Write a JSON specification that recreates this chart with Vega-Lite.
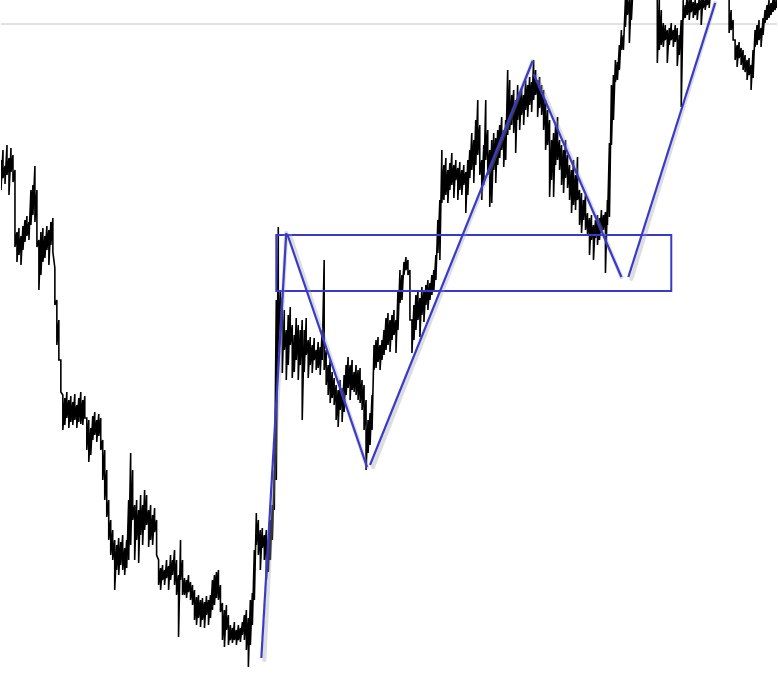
{
  "$schema": "https://vega.github.io/schema/vega-lite/v6.json",
  "width": 778,
  "height": 677,
  "padding": 0,
  "autosize": {"type": "fit", "contains": "padding"},
  "background": "white",
  "config": {"view": {"stroke": null}},
  "datasets": {
    "price": [
      {"t":0,"a":160,"b":190},{"t":2,"a":150,"b":178},{"t":4,"a":166,"b":184},{"t":6,"a":145,"b":175},{"t":8,"a":158,"b":195},{"t":10,"a":148,"b":172},{"t":12,"a":155,"b":182},{"t":14,"a":170,"b":247},{"t":16,"a":232,"b":262},{"t":18,"a":228,"b":255},
      {"t":20,"a":236,"b":265},{"t":22,"a":226,"b":250},{"t":24,"a":220,"b":242},{"t":26,"a":216,"b":236},{"t":28,"a":222,"b":240},{"t":30,"a":190,"b":225},{"t":32,"a":185,"b":215},{"t":34,"a":166,"b":222},{"t":36,"a":190,"b":247},{"t":38,"a":240,"b":290},
      {"t":40,"a":232,"b":275},{"t":42,"a":228,"b":262},{"t":44,"a":236,"b":258},{"t":46,"a":226,"b":250},{"t":48,"a":230,"b":265},{"t":50,"a":222,"b":245},{"t":52,"a":218,"b":252},{"t":54,"a":268,"b":305},{"t":56,"a":300,"b":345},{"t":58,"a":320,"b":360},
      {"t":60,"a":360,"b":392},{"t":62,"a":395,"b":430},{"t":64,"a":398,"b":425},{"t":66,"a":392,"b":418},{"t":68,"a":400,"b":428},{"t":70,"a":396,"b":422},{"t":72,"a":402,"b":425},{"t":74,"a":394,"b":420},{"t":76,"a":405,"b":428},{"t":78,"a":398,"b":422},
      {"t":80,"a":392,"b":424},{"t":82,"a":400,"b":425},{"t":84,"a":396,"b":418},{"t":86,"a":418,"b":450},{"t":88,"a":420,"b":462},{"t":90,"a":428,"b":455},{"t":92,"a":416,"b":440},{"t":94,"a":412,"b":435},{"t":96,"a":420,"b":442},{"t":98,"a":414,"b":436},
      {"t":100,"a":418,"b":450},{"t":102,"a":440,"b":480},{"t":104,"a":450,"b":500},{"t":106,"a":470,"b":517},{"t":108,"a":500,"b":540},{"t":110,"a":520,"b":555},{"t":112,"a":530,"b":560},{"t":114,"a":540,"b":590},{"t":116,"a":545,"b":570},{"t":118,"a":538,"b":575},
      {"t":120,"a":542,"b":565},{"t":122,"a":535,"b":570},{"t":124,"a":548,"b":575},{"t":126,"a":540,"b":568},{"t":128,"a":500,"b":560},{"t":130,"a":453,"b":545},{"t":132,"a":470,"b":520},{"t":134,"a":505,"b":560},{"t":136,"a":500,"b":540},{"t":138,"a":510,"b":563},
      {"t":140,"a":495,"b":535},{"t":142,"a":505,"b":545},{"t":144,"a":490,"b":530},{"t":146,"a":495,"b":525},{"t":148,"a":510,"b":547},{"t":150,"a":505,"b":540},{"t":152,"a":515,"b":545},{"t":154,"a":508,"b":532},{"t":156,"a":520,"b":555},{"t":158,"a":560,"b":585},
      {"t":160,"a":568,"b":590},{"t":162,"a":565,"b":580},{"t":164,"a":570,"b":585},{"t":166,"a":560,"b":578},{"t":168,"a":566,"b":590},{"t":170,"a":555,"b":580},{"t":172,"a":560,"b":575},{"t":174,"a":550,"b":585},{"t":176,"a":560,"b":595},{"t":178,"a":575,"b":637},
      {"t":180,"a":540,"b":580},{"t":182,"a":560,"b":595},{"t":184,"a":578,"b":595},{"t":186,"a":580,"b":598},{"t":188,"a":575,"b":592},{"t":190,"a":582,"b":600},{"t":192,"a":585,"b":605},{"t":194,"a":590,"b":620},{"t":196,"a":597,"b":625},{"t":198,"a":595,"b":618},
      {"t":200,"a":600,"b":627},{"t":202,"a":598,"b":620},{"t":204,"a":602,"b":628},{"t":206,"a":596,"b":615},{"t":208,"a":600,"b":625},{"t":210,"a":595,"b":618},{"t":212,"a":580,"b":610},{"t":214,"a":575,"b":605},{"t":216,"a":572,"b":598},{"t":218,"a":570,"b":600},
      {"t":220,"a":585,"b":612},{"t":222,"a":603,"b":640},{"t":224,"a":610,"b":647},{"t":226,"a":605,"b":630},{"t":228,"a":615,"b":645},{"t":230,"a":625,"b":640},{"t":232,"a":628,"b":643},{"t":234,"a":622,"b":640},{"t":236,"a":630,"b":645},{"t":238,"a":625,"b":640},
      {"t":240,"a":628,"b":642},{"t":242,"a":622,"b":635},{"t":244,"a":615,"b":640},{"t":246,"a":610,"b":650},{"t":248,"a":618,"b":667},{"t":250,"a":600,"b":645},{"t":252,"a":593,"b":625},{"t":254,"a":550,"b":600},{"t":256,"a":513,"b":545},{"t":258,"a":520,"b":555},
      {"t":260,"a":530,"b":570},{"t":262,"a":528,"b":548},{"t":264,"a":535,"b":560},{"t":266,"a":530,"b":580},{"t":268,"a":540,"b":572},{"t":270,"a":520,"b":560},{"t":272,"a":505,"b":540},{"t":274,"a":470,"b":510},{"t":276,"a":300,"b":480},{"t":278,"a":227,"b":353},
      {"t":280,"a":290,"b":330},{"t":282,"a":297,"b":373},{"t":284,"a":310,"b":350},{"t":286,"a":330,"b":380},{"t":288,"a":315,"b":365},{"t":290,"a":307,"b":345},{"t":292,"a":325,"b":378},{"t":294,"a":335,"b":372},{"t":296,"a":318,"b":360},{"t":298,"a":325,"b":380},
      {"t":300,"a":330,"b":365},{"t":302,"a":320,"b":420},{"t":304,"a":330,"b":372},{"t":306,"a":318,"b":355},{"t":308,"a":340,"b":378},{"t":310,"a":337,"b":365},{"t":312,"a":345,"b":373},{"t":314,"a":338,"b":360},{"t":316,"a":350,"b":370},{"t":318,"a":342,"b":368},
      {"t":320,"a":347,"b":375},{"t":322,"a":330,"b":360},{"t":324,"a":260,"b":370},{"t":326,"a":350,"b":385},{"t":328,"a":365,"b":395},{"t":330,"a":360,"b":403},{"t":332,"a":372,"b":398},{"t":334,"a":378,"b":405},{"t":336,"a":385,"b":420},{"t":338,"a":390,"b":427},
      {"t":340,"a":380,"b":410},{"t":342,"a":388,"b":422},{"t":344,"a":375,"b":412},{"t":346,"a":365,"b":395},{"t":348,"a":357,"b":388},{"t":350,"a":365,"b":400},{"t":352,"a":360,"b":390},{"t":354,"a":372,"b":392},{"t":356,"a":365,"b":395},{"t":358,"a":370,"b":400},
      {"t":360,"a":368,"b":403},{"t":362,"a":380,"b":410},{"t":364,"a":385,"b":430},{"t":366,"a":400,"b":470},{"t":368,"a":420,"b":453},{"t":370,"a":413,"b":445},{"t":372,"a":395,"b":430},{"t":374,"a":345,"b":370},{"t":376,"a":340,"b":368},{"t":378,"a":337,"b":362},
      {"t":380,"a":345,"b":370},{"t":382,"a":340,"b":360},{"t":384,"a":330,"b":355},{"t":386,"a":318,"b":350},{"t":388,"a":313,"b":345},{"t":390,"a":320,"b":352},{"t":392,"a":315,"b":340},{"t":394,"a":310,"b":335},{"t":396,"a":320,"b":353},{"t":398,"a":290,"b":330},
      {"t":400,"a":270,"b":303},{"t":402,"a":275,"b":300},{"t":404,"a":262,"b":275},{"t":406,"a":257,"b":270},{"t":408,"a":260,"b":275},{"t":410,"a":270,"b":320},{"t":412,"a":320,"b":353},{"t":414,"a":305,"b":340},{"t":416,"a":295,"b":330},{"t":418,"a":290,"b":320},
      {"t":420,"a":298,"b":337},{"t":422,"a":287,"b":315},{"t":424,"a":292,"b":322},{"t":426,"a":285,"b":305},{"t":428,"a":280,"b":310},{"t":430,"a":283,"b":300},{"t":432,"a":275,"b":295},{"t":434,"a":270,"b":290},{"t":436,"a":255,"b":280},{"t":438,"a":220,"b":253},
      {"t":440,"a":200,"b":260},{"t":442,"a":150,"b":203},{"t":444,"a":165,"b":200},{"t":446,"a":158,"b":195},{"t":448,"a":170,"b":203},{"t":450,"a":163,"b":190},{"t":452,"a":153,"b":185},{"t":454,"a":165,"b":198},{"t":456,"a":160,"b":180},{"t":458,"a":168,"b":200},
      {"t":460,"a":162,"b":190},{"t":462,"a":170,"b":195},{"t":464,"a":165,"b":185},{"t":466,"a":172,"b":213},{"t":468,"a":160,"b":195},{"t":470,"a":150,"b":178},{"t":472,"a":133,"b":170},{"t":474,"a":140,"b":183},{"t":476,"a":120,"b":165},{"t":478,"a":100,"b":155},
      {"t":480,"a":125,"b":175},{"t":482,"a":160,"b":200},{"t":484,"a":145,"b":185},{"t":486,"a":100,"b":160},{"t":488,"a":130,"b":175},{"t":490,"a":150,"b":207},{"t":492,"a":140,"b":203},{"t":494,"a":133,"b":170},{"t":496,"a":138,"b":183},{"t":498,"a":130,"b":165},
      {"t":500,"a":125,"b":158},{"t":502,"a":117,"b":150},{"t":504,"a":130,"b":167},{"t":506,"a":120,"b":160},{"t":508,"a":70,"b":135},{"t":510,"a":80,"b":130},{"t":512,"a":95,"b":125},{"t":514,"a":90,"b":133},{"t":516,"a":100,"b":153},{"t":518,"a":85,"b":120},
      {"t":520,"a":92,"b":130},{"t":522,"a":88,"b":115},{"t":524,"a":95,"b":125},{"t":526,"a":80,"b":110},{"t":528,"a":85,"b":117},{"t":530,"a":77,"b":105},{"t":532,"a":82,"b":112},{"t":534,"a":60,"b":100},{"t":536,"a":70,"b":95},{"t":538,"a":80,"b":117},
      {"t":540,"a":77,"b":108},{"t":542,"a":85,"b":115},{"t":544,"a":90,"b":130},{"t":546,"a":100,"b":150},{"t":548,"a":110,"b":145},{"t":550,"a":120,"b":197},{"t":552,"a":140,"b":180},{"t":554,"a":133,"b":197},{"t":556,"a":125,"b":165},{"t":558,"a":117,"b":160},
      {"t":560,"a":140,"b":170},{"t":562,"a":145,"b":185},{"t":564,"a":150,"b":193},{"t":566,"a":140,"b":178},{"t":568,"a":155,"b":188},{"t":570,"a":165,"b":200},{"t":572,"a":170,"b":213},{"t":574,"a":160,"b":205},{"t":576,"a":175,"b":210},{"t":578,"a":157,"b":200},
      {"t":580,"a":190,"b":225},{"t":582,"a":193,"b":233},{"t":584,"a":200,"b":220},{"t":586,"a":195,"b":230},{"t":588,"a":213,"b":235},{"t":590,"a":218,"b":255},{"t":592,"a":215,"b":240},{"t":594,"a":225,"b":260},{"t":596,"a":220,"b":238},{"t":598,"a":215,"b":245},
      {"t":600,"a":218,"b":240},{"t":602,"a":210,"b":233},{"t":604,"a":215,"b":230},{"t":606,"a":212,"b":273},{"t":608,"a":200,"b":225},{"t":610,"a":143,"b":217},{"t":612,"a":85,"b":145},{"t":614,"a":75,"b":120},{"t":616,"a":60,"b":82},{"t":618,"a":62,"b":80},
      {"t":620,"a":45,"b":70},{"t":622,"a":30,"b":50},{"t":624,"a":35,"b":50},{"t":626,"a":0,"b":27},{"t":628,"a":-10,"b":15},{"t":630,"a":0,"b":43},{"t":632,"a":-5,"b":20},{"t":634,"a":-20,"b":-8},{"t":636,"a":-25,"b":-10},{"t":638,"a":-20,"b":-8},
      {"t":640,"a":-25,"b":-10},{"t":642,"a":-20,"b":-8},{"t":644,"a":-25,"b":-10},{"t":646,"a":-20,"b":-8},{"t":648,"a":-25,"b":-10},{"t":650,"a":-20,"b":-8},{"t":652,"a":-25,"b":-10},{"t":654,"a":-20,"b":-8},{"t":656,"a":-15,"b":-3},{"t":658,"a":-5,"b":63},
      {"t":660,"a":0,"b":50},{"t":662,"a":10,"b":45},{"t":664,"a":23,"b":47},{"t":666,"a":25,"b":40},{"t":668,"a":30,"b":63},{"t":670,"a":28,"b":45},{"t":672,"a":23,"b":40},{"t":674,"a":30,"b":47},{"t":676,"a":25,"b":42},{"t":678,"a":28,"b":66},
      {"t":680,"a":35,"b":55},{"t":682,"a":20,"b":107},{"t":684,"a":0,"b":20},{"t":686,"a":5,"b":18},{"t":688,"a":-5,"b":15},{"t":690,"a":0,"b":20},{"t":692,"a":-3,"b":12},{"t":694,"a":2,"b":18},{"t":696,"a":0,"b":15},{"t":698,"a":3,"b":20},
      {"t":700,"a":-2,"b":10},{"t":702,"a":0,"b":25},{"t":704,"a":-5,"b":8},{"t":706,"a":0,"b":10},{"t":708,"a":-3,"b":5},{"t":710,"a":0,"b":8},{"t":712,"a":-15,"b":-3},{"t":714,"a":-25,"b":-10},{"t":716,"a":-20,"b":-8},{"t":718,"a":-25,"b":-10},
      {"t":720,"a":-20,"b":-8},{"t":722,"a":-25,"b":-10},{"t":724,"a":-20,"b":-8},{"t":726,"a":-25,"b":-10},{"t":728,"a":-15,"b":-3},{"t":730,"a":-5,"b":33},{"t":732,"a":10,"b":30},{"t":734,"a":20,"b":40},{"t":736,"a":40,"b":60},{"t":738,"a":45,"b":67},
      {"t":740,"a":42,"b":58},{"t":742,"a":48,"b":65},{"t":744,"a":50,"b":70},{"t":746,"a":55,"b":72},{"t":748,"a":60,"b":80},{"t":750,"a":58,"b":75},{"t":752,"a":65,"b":90},{"t":754,"a":50,"b":78},{"t":756,"a":30,"b":47},{"t":758,"a":25,"b":45},
      {"t":760,"a":20,"b":40},{"t":762,"a":28,"b":47},{"t":764,"a":18,"b":35},{"t":766,"a":10,"b":23},{"t":768,"a":5,"b":20},{"t":770,"a":0,"b":18},{"t":772,"a":3,"b":15},{"t":774,"a":0,"b":12},{"t":776,"a":-2,"b":10},{"t":778,"a":0,"b":8}
    ],
    "legs": [
      {"x1":261,"y1":658,"x2":286,"y2":233},
      {"x1":287,"y1":234,"x2":367,"y2":467},
      {"x1":370,"y1":465,"x2":533,"y2":61},
      {"x1":534,"y1":74,"x2":622,"y2":277},
      {"x1":629,"y1":277,"x2":716,"y2":3}
    ],
    "box": [{"x1":276,"y1":235,"x2":672,"y2":291}],
    "level": [{"y":24}],
    "tag": [{"x":14,"y":676,"label":"1.77"}]
  },
  "layer": [
    {
      "data": {"name": "level"},
      "mark": {"type": "rule", "color": "#c4c4c4", "strokeWidth": 1},
      "encoding": {
        "y": {"field": "y", "type": "quantitative", "scale": {"domain": [677, 0], "nice": false, "zero": false}, "axis": null}
      }
    },
    {
      "data": {"name": "price"},
      "transform": [{"fold": ["a", "b"], "as": ["k", "v"]}],
      "mark": {"type": "line", "color": "black", "strokeWidth": 1.6, "clip": true, "strokeJoin": "miter"},
      "encoding": {
        "x": {"field": "t", "type": "quantitative", "scale": {"domain": [0, 778], "nice": false, "zero": false}, "axis": null},
        "y": {"field": "v", "type": "quantitative", "scale": {"domain": [677, 0], "nice": false, "zero": false}, "axis": null},
        "order": [{"field": "t", "type": "quantitative"}, {"field": "k", "type": "nominal"}]
      }
    },
    {
      "data": {"name": "box"},
      "mark": {"type": "rect", "fill": null, "fillOpacity": 0, "stroke": "#3a3ac8", "strokeWidth": 2},
      "encoding": {
        "x": {"field": "x1", "type": "quantitative", "scale": {"domain": [0, 778], "nice": false, "zero": false}, "axis": null},
        "x2": {"field": "x2"},
        "y": {"field": "y1", "type": "quantitative", "scale": {"domain": [677, 0], "nice": false, "zero": false}, "axis": null},
        "y2": {"field": "y2"}
      }
    },
    {
      "data": {"name": "legs"},
      "mark": {"type": "rule", "color": "#9a9aa8", "strokeWidth": 4, "opacity": 0.35, "xOffset": 3, "yOffset": 2, "strokeCap": "round"},
      "encoding": {
        "x": {"field": "x1", "type": "quantitative", "scale": {"domain": [0, 778], "nice": false, "zero": false}, "axis": null},
        "x2": {"field": "x2"},
        "y": {"field": "y1", "type": "quantitative", "scale": {"domain": [677, 0], "nice": false, "zero": false}, "axis": null},
        "y2": {"field": "y2"}
      }
    },
    {
      "data": {"name": "legs"},
      "mark": {"type": "rule", "color": "#3a3ac8", "strokeWidth": 2.2},
      "encoding": {
        "x": {"field": "x1", "type": "quantitative", "scale": {"domain": [0, 778], "nice": false, "zero": false}, "axis": null},
        "x2": {"field": "x2"},
        "y": {"field": "y1", "type": "quantitative", "scale": {"domain": [677, 0], "nice": false, "zero": false}, "axis": null},
        "y2": {"field": "y2"}
      }
    },
    {
      "data": {"name": "tag"},
      "mark": {"type": "text", "color": "#1e7be6", "fontSize": 13, "fontWeight": "bold", "align": "left", "baseline": "top", "clip": true, "font": "Liberation Sans"},
      "encoding": {
        "x": {"field": "x", "type": "quantitative", "scale": {"domain": [0, 778], "nice": false, "zero": false}, "axis": null},
        "y": {"field": "y", "type": "quantitative", "scale": {"domain": [677, 0], "nice": false, "zero": false}, "axis": null},
        "text": {"field": "label"}
      }
    }
  ]
}
